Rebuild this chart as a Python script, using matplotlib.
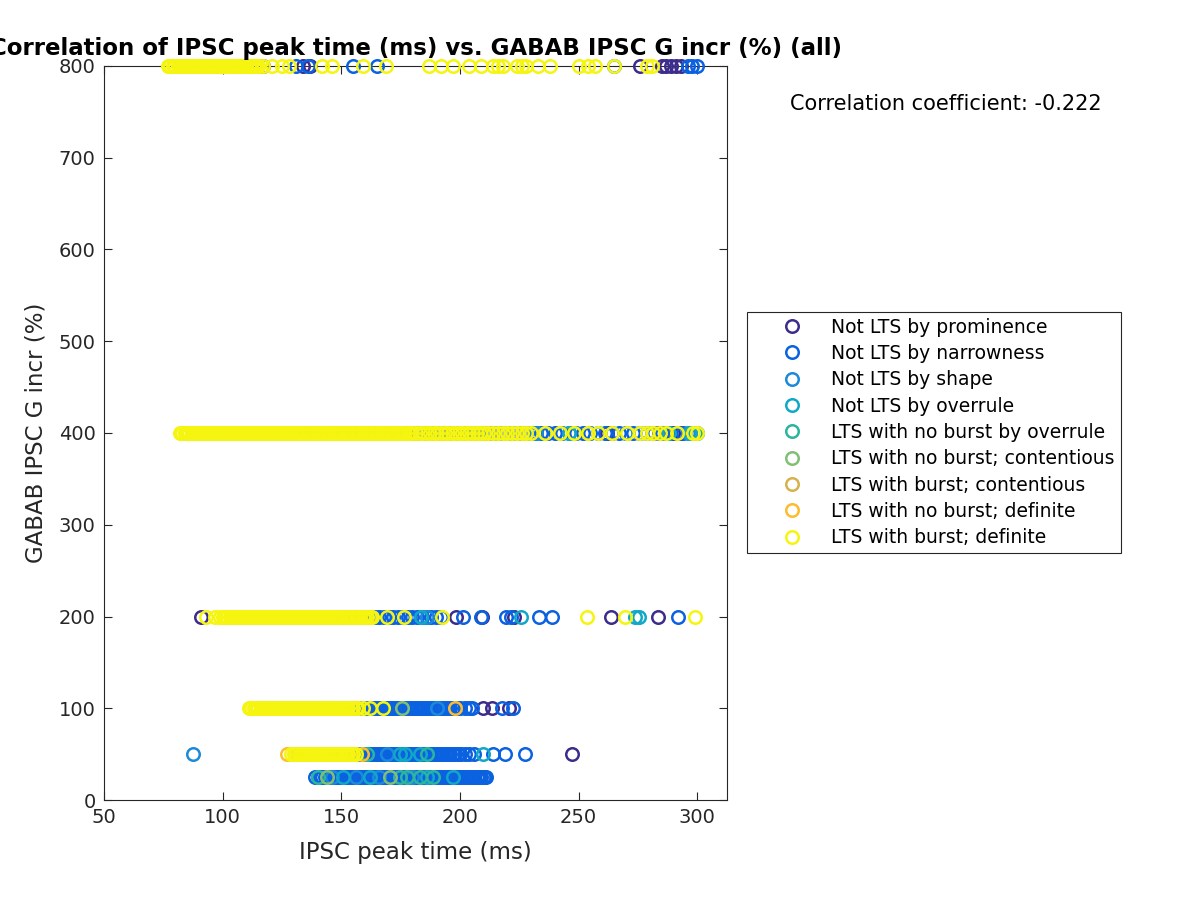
import matplotlib
matplotlib.use('Agg')
import matplotlib.pyplot as plt
from matplotlib.lines import Line2D

# IPSC peak time (ms) per GABAB G increase level (%), one dict per LTS class
prominence = {
    800: [117, 134, 137, 276, 285, 287, 289, 291, 293],
    400: [160, 178, 186, 196, 203, 212, 218, 226, 262, 284, 287, 290, 293],
    200: [90.9, 198.4, 209.4, 222.8, 263.7, 283.6],
    100: [209.8, 213.6, 220.5],
    50: [192, 200, 247.3],
    25: [206, 210],
}
narrowness = {
    800: [131, 136, 155, 165, 265, 296, 298, 300],
    400: [135, 138, 141, 144, 147, 150, 153, 156, 159, 162, 165, 168, 171, 174,
          177, 180, 182, 184, 186, 188, 190, 192, 194, 196, 198, 200, 202, 204,
          206, 208, 210, 212, 214, 216, 218, 220, 222, 224, 226, 228, 230, 232,
          234, 237, 240, 243, 246, 249, 252, 255, 258, 261, 264, 267, 270, 273,
          276, 279, 282, 285, 288, 291, 294, 297, 300],
    200: [150, 152, 154, 156, 158, 160, 162, 164, 166, 168, 170, 172, 174, 176,
          178, 180, 182, 184, 186, 188, 190, 192, 201.3, 209, 219.5, 221.6,
          233.4, 238.9, 292],
    100: [156, 157, 158, 159, 160, 161, 162, 163, 164, 165, 166, 167, 168, 169,
          170, 171, 172, 173, 174, 175, 176, 177, 178, 179, 180, 181, 182, 183,
          184, 185, 186, 187, 188, 189, 190, 191, 192, 193, 194, 195, 196, 197,
          198, 199, 200, 202, 204, 205.1, 217.8, 222.4],
    50: [150, 151, 152, 153, 154, 155, 156, 157, 158, 159, 160, 161, 162, 163,
         164, 165, 166, 167, 168, 169, 170, 171, 172, 173, 174, 175, 176, 177,
         178, 179, 180, 181, 182, 183, 184, 185, 186, 187, 188, 189, 190, 191,
         192, 193, 194, 195, 196, 197, 198, 199, 200, 202, 204, 206, 214, 219,
         227.5],
    25: [139, 140, 141, 142, 143, 144, 145, 146, 147, 148, 149, 150, 151, 152,
         153, 154, 155, 156, 157, 158, 159, 160, 161, 162, 163, 164, 165, 166,
         167, 168, 169, 170, 171, 172, 173, 174, 175, 176, 177, 178, 179, 180,
         181, 182, 183, 184, 185, 186, 187, 188, 189, 190, 191, 192, 193, 194,
         195, 196, 197, 198, 199, 200, 201, 202, 203, 204, 205, 206, 207, 208,
         209, 210, 211],
}
shape = {
    400: [150, 170, 190, 232, 270, 296],
    200: [186],
    100: [190.4],
    50: [87.3, 169.3],
    25: [146, 156, 166, 180],
}
overrule = {
    400: [175, 205, 246, 288, 297, 299],
    200: [183.6, 225.8, 273.9, 275.5],
    50: [174.8, 176.9, 183.2, 209.8],
    25: [150.8, 162.1, 186.2, 197.1],
}
noburst_overrule = {
    50: [161, 186],
    25: [140.2, 174.8, 177.7, 183.2, 188.7],
}
noburst_contentious = {
    100: [175.6],
    25: [144, 170.6],
}
burst_contentious = {
    50: [133, 145],
}
noburst_definite = {
    400: [151],
    100: [198],
    50: [127.2, 131, 135, 142, 148, 152, 158.8],
}
burst_definite = {
    800: [77, 78, 79, 80, 81, 82, 83, 84, 85, 86, 87, 88, 89, 90, 91, 92, 93,
          94, 95, 96, 97, 98, 99, 100, 101, 102, 103, 104, 105, 106, 107, 108,
          109, 110, 111, 112, 113, 114, 115, 117, 121, 125, 128, 142, 146, 159,
          169, 187, 192, 197, 204, 209, 214, 216, 218, 224, 226, 228, 233, 238,
          250, 254, 257, 265, 279, 281],
    400: [82, 83, 84, 85, 86, 87, 88, 89, 90, 91, 92, 93, 94, 95, 96, 97, 98,
          99, 100, 101, 102, 103, 104, 105, 106, 107, 108, 109, 110, 111, 112,
          113, 114, 115, 116, 117, 118, 119, 120, 121, 122, 123, 124, 125, 126,
          127, 128, 129, 130, 131, 132, 133, 134, 135, 136, 137, 138, 139, 140,
          141, 142, 143, 144, 145, 146, 147, 148, 149, 150, 151, 152, 153, 154,
          155, 156, 157, 158, 159, 160, 161, 162, 163, 164, 165, 166, 167, 168,
          169, 170, 171, 172, 173, 174, 175, 176, 177, 178, 179, 180, 181.5, 183,
          184.5, 186, 187.5, 189, 190.5, 192, 193.5, 195, 196.5, 198, 199.5, 201,
          202.5, 204, 205.5, 207, 208.5, 210, 212, 214, 216, 218, 220, 222, 224,
          226, 228, 230, 236, 242, 248, 254, 258, 264, 270.5, 276, 279, 281.5,
          284.4, 287, 291.6, 298.3, 300],
    200: [93, 96.6, 99, 100, 101, 102, 103, 104, 105, 106, 107, 108, 109, 110,
          111, 112, 113, 114, 115, 116, 117, 118, 119, 120, 121, 122, 123, 124,
          125, 126, 127, 128, 129, 130, 131, 132, 133, 134, 135, 136, 137, 138,
          139, 140, 141, 142, 143, 144, 145, 146, 147, 148, 149, 150, 151, 152,
          153, 154, 155, 156, 157, 158, 159, 160, 161, 162, 163, 169.3, 176.5,
          192.5, 253.6, 269.6, 299.2],
    100: [111, 112, 113, 114, 115, 116, 117, 118, 119, 120, 121, 122, 123, 124,
          125, 126, 127, 128, 129, 130, 131, 132, 133, 134, 135, 136, 137, 138,
          139, 140, 141, 142, 143, 144, 145, 146, 147, 148, 149, 150, 151, 152,
          153, 154, 155, 156, 157, 159.2, 162.1, 167.6],
    50: [129, 130, 131, 132, 133, 134, 135, 136, 137, 138, 139, 140, 141, 142,
         143, 144, 145, 146, 147, 148, 149, 150, 151, 152, 153, 154, 155, 156],
}

labels = ['Not LTS by prominence', 'Not LTS by narrowness', 'Not LTS by shape',
          'Not LTS by overrule', 'LTS with no burst by overrule',
          'LTS with no burst; contentious', 'LTS with burst; contentious',
          'LTS with no burst; definite', 'LTS with burst; definite']
groups = [prominence, narrowness, shape, overrule, noburst_overrule,
          noburst_contentious, burst_contentious, noburst_definite, burst_definite]
colors = ['#3c2d8c', '#0b62e0', '#1c8ad8', '#11a8c8', '#2cb59e',
          '#80c074', '#d6b24e', '#fcbc30', '#f5f510']
corr_coef = -0.222

fig = plt.figure(figsize=(12, 9), dpi=100)
ax = fig.add_axes([0.0867, 0.1111, 0.5192, 0.8156])

for grp, col in zip(groups, colors):
    xs = []
    ys = []
    for level, times in grp.items():
        xs += times
        ys += [level] * len(times)
    ax.plot(xs, ys, 'o', mfc='none', mec=col, ms=9, mew=1.8, clip_on=False, zorder=3)

axcol = '#262626'
ax.set_xlim(50, 312.6)
ax.set_ylim(0, 800)
ax.set_xticks([50, 100, 150, 200, 250, 300])
ax.set_yticks([0, 100, 200, 300, 400, 500, 600, 700, 800])
ax.tick_params(direction='in', length=6, width=0.8, top=True, right=True,
               labelsize=14, colors=axcol, pad=6)
for s in ax.spines.values():
    s.set_color(axcol)
    s.set_linewidth(0.8)

ax.set_xlabel('IPSC peak time (ms)', fontsize=16.5, color=axcol, labelpad=10)
ax.set_ylabel('GABAB IPSC G incr (%)', fontsize=16.5, color=axcol, labelpad=8)
ax.set_title('Correlation of IPSC peak time (ms) vs. GABAB IPSC G incr (%) (all)',
             fontsize=16.5, fontweight='bold', pad=8)

fig.text(0.658, 0.884, 'Correlation coefficient: %.3f' % corr_coef,
         fontsize=15, va='center', ha='left')

handles = [Line2D([], [], ls='none', marker='o', mfc='none', mec=c, ms=9, mew=1.8)
           for c in colors]
leg = fig.legend(handles, labels, loc='upper left', bbox_to_anchor=(0.6225, 0.6533),
                 fontsize=13.5, frameon=True, fancybox=False, framealpha=1,
                 edgecolor='#262626', handlelength=4.2, handletextpad=0.0,
                 labelspacing=0.39, borderpad=0.3, borderaxespad=0, numpoints=1)
leg.get_frame().set_linewidth(0.8)

fig.savefig('out.png', dpi=100)
